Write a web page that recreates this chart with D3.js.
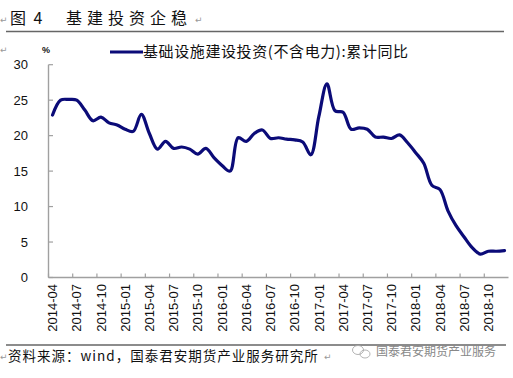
<!DOCTYPE html>
<html>
<head>
<meta charset="utf-8">
<script src="https://cdn.jsdelivr.net/npm/d3@7/dist/d3.min.js"></script>
<style>
  html, body { margin: 0; padding: 0; background: #fff; }
  svg { display: block; }
</style>
</head>
<body>
<svg id="chart" width="513" height="378"></svg>
<script>
// ---- data ----
const months = [
  "2014-04","2014-05","2014-06","2014-07","2014-08","2014-09","2014-10","2014-11","2014-12",
  "2015-01","2015-02","2015-03","2015-04","2015-05","2015-06","2015-07","2015-08","2015-09","2015-10","2015-11","2015-12",
  "2016-01","2016-02","2016-03","2016-04","2016-05","2016-06","2016-07","2016-08","2016-09","2016-10","2016-11","2016-12",
  "2017-01","2017-02","2017-03","2017-04","2017-05","2017-06","2017-07","2017-08","2017-09","2017-10","2017-11","2017-12",
  "2018-01","2018-02","2018-03","2018-04","2018-05","2018-06","2018-07","2018-08","2018-09","2018-10","2018-11","2018-12"
];
const infraYoY = [
  22.9, 25.0, 25.1, 25.0, 23.6, 22.1, 22.6, 21.8, 21.5,
  20.9, 20.6, 23.0, 20.3, 18.1, 19.2, 18.2, 18.4, 18.1, 17.4, 18.2, 16.9,
  15.8, 15.0, 19.7, 19.2, 20.3, 20.8, 19.6, 19.7, 19.5, 19.4, 19.1, 17.3,
  22.7, 27.3, 23.5, 23.3, 20.9, 21.1, 20.9, 19.8, 19.8, 19.6, 20.1, 19.0,
  17.6, 16.1, 13.0, 12.4, 9.4, 7.3, 5.7, 4.2, 3.3, 3.7, 3.7, 3.8
];
const yTicks = [0, 5, 10, 15, 20, 25, 30];
const xTickLabels = [
  "2014-04","2014-07","2014-10","2015-01","2015-04","2015-07","2015-10",
  "2016-01","2016-04","2016-07","2016-10","2017-01","2017-04","2017-07",
  "2017-10","2018-01","2018-04","2018-07","2018-10"
];
const titleNum = "图 4";
const titleText = "基建投资企稳";
const seriesName = "基础设施建设投资(不含电力):累计同比";
const sourceText = "资料来源：wind，国泰君安期货产业服务研究所";
const watermarkText = "国泰君安期货产业服务";

// ---- drawing ----
const svg = d3.select("#chart");
const cjk = "'Noto Sans CJK SC', 'Noto Sans', sans-serif";
const latin = "'Liberation Sans', Arial, sans-serif";
const axisColor = "#a0a0a0";
const lineColor = "#0b0b78";
const markFont = "'DejaVu Sans', sans-serif";

const x = d3.scaleBand().domain(months).range([48.5, 508.5]).padding(0);
const y = d3.scaleLinear().domain([0, 30]).range([277.5, 64.7]);

// title
svg.append("text").attr("x", 0).attr("y", 23).attr("font-family", markFont)
  .attr("font-size", 9).attr("fill", "#999").text("↵");
svg.append("text").attr("x", 10).attr("y", 24).attr("font-family", cjk)
  .attr("font-size", 16).attr("letter-spacing", 2).attr("fill", "#111").text(titleNum);
svg.append("text").attr("x", 66).attr("y", 24).attr("font-family", cjk)
  .attr("font-size", 16).attr("letter-spacing", 5).attr("fill", "#111").text(titleText);
svg.append("text").attr("x", 195).attr("y", 23).attr("font-family", markFont)
  .attr("font-size", 9).attr("fill", "#999").text("↵");

// rules
svg.append("line").attr("x1", 6).attr("x2", 504).attr("y1", 31.5).attr("y2", 31.5)
  .attr("stroke", "#666").attr("stroke-width", 1.5);
svg.append("line").attr("x1", 6).attr("x2", 506).attr("y1", 345).attr("y2", 345)
  .attr("stroke", "#666").attr("stroke-width", 1.5);

svg.append("text").attr("x", 0).attr("y", 53).attr("font-family", markFont)
  .attr("font-size", 9).attr("fill", "#999").text("↵");

// percent unit
svg.append("text").attr("x", 46).attr("y", 53).attr("text-anchor", "middle")
  .attr("font-family", latin).attr("font-size", 9).attr("font-weight", "bold").attr("fill", "#111").text("%");

// legend
svg.append("line").attr("x1", 110).attr("x2", 143).attr("y1", 52).attr("y2", 52)
  .attr("stroke", lineColor).attr("stroke-width", 3.2);
svg.append("text").attr("x", 143).attr("y", 57).attr("font-family", cjk)
  .attr("font-size", 15).attr("letter-spacing", 0.6).attr("fill", "#111").text(seriesName);

// y axis
const yAxis = svg.append("g");
yAxis.append("line").attr("x1", 48.5).attr("x2", 48.5).attr("y1", y(30)).attr("y2", y(0))
  .attr("stroke", axisColor).attr("stroke-width", 1.4);
yAxis.selectAll("line.tick").data(yTicks).join("line").attr("class", "tick")
  .attr("x1", 48.5).attr("x2", 53).attr("y1", d => y(d)).attr("y2", d => y(d))
  .attr("stroke", axisColor).attr("stroke-width", 1.2);
yAxis.selectAll("text").data(yTicks).join("text")
  .attr("x", 28).attr("y", d => y(d)).attr("dy", "0.36em").attr("text-anchor", "end")
  .attr("font-family", latin).attr("font-size", 13).attr("fill", "#111").text(d => d);

// x axis
const xAxis = svg.append("g");
xAxis.append("line").attr("x1", 48.5).attr("x2", 508.5).attr("y1", y(0)).attr("y2", y(0))
  .attr("stroke", axisColor).attr("stroke-width", 1.4);
xAxis.selectAll("line.tick").data(xTickLabels).join("line").attr("class", "tick")
  .attr("x1", d => x(d)).attr("x2", d => x(d)).attr("y1", y(0)).attr("y2", y(0) - 4)
  .attr("stroke", axisColor).attr("stroke-width", 1.2);
xAxis.selectAll("text").data(xTickLabels).join("text")
  .attr("transform", d => `translate(${x(d) + x.bandwidth() / 2},284) rotate(-90)`)
  .attr("dy", "0.36em").attr("text-anchor", "end")
  .attr("font-family", latin).attr("font-size", 13).attr("fill", "#111").text(d => d);

// series line
const line = d3.line()
  .x((d, i) => x(months[i]) + x.bandwidth() / 2)
  .y(d => y(d))
  .curve(d3.curveCatmullRom.alpha(0.5));
svg.append("path").datum(infraYoY).attr("d", line)
  .attr("fill", "none").attr("stroke", lineColor).attr("stroke-width", 3.2)
  .attr("stroke-linejoin", "round").attr("stroke-linecap", "round");

// source
svg.append("text").attr("x", 0).attr("y", 360).attr("font-family", markFont)
  .attr("font-size", 9).attr("fill", "#999").text("↵");
svg.append("text").attr("x", 8).attr("y", 361).attr("font-family", cjk)
  .attr("font-size", 13.5).attr("letter-spacing", 1.0).attr("fill", "#111").text(sourceText);
svg.append("text").attr("x", 324).attr("y", 360).attr("font-family", markFont)
  .attr("font-size", 9).attr("fill", "#999").text("↵");

// watermark
const wm = svg.append("g").attr("fill", "none").attr("stroke", "#aaa").attr("stroke-width", 0.9);
wm.append("ellipse").attr("cx", 358).attr("cy", 350).attr("rx", 5.5).attr("ry", 4.5);
wm.append("ellipse").attr("cx", 365).attr("cy", 354).attr("rx", 5).attr("ry", 4);
svg.append("text").attr("x", 376).attr("y", 356).attr("font-family", cjk)
  .attr("font-size", 12).attr("fill", "#888").text(watermarkText);
</script>
</body>
</html>
